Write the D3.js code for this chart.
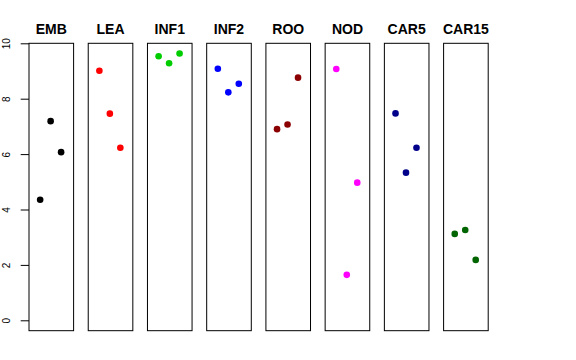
<!DOCTYPE html>
<html><head><meta charset="utf-8">
<script src="https://cdn.jsdelivr.net/npm/d3@7"></script>
<style>body{margin:0;background:#fff}svg{display:block}</style>
</head><body>
<script>
const categories = ["EMB","LEA","INF1","INF2","ROO","NOD","CAR5","CAR15"];
const colors = ["#000000","#FF0000","#00CD00","#0000FF","#8B0000","#FF00FF","#00008B","#006400"];
// three replicate values per category, in left-to-right order
const values = [
  [4.35, 7.19, 6.07],
  [9.01, 7.46, 6.23],
  [9.53, 9.28, 9.63],
  [9.08, 8.23, 8.54],
  [6.90, 7.07, 8.76],
  [9.07, 1.64, 4.97],
  [7.47, 5.33, 6.23],
  [3.12, 3.26, 2.18]
];
const yTicks = [0, 2, 4, 6, 8, 10];

const W = 576, H = 360;
const svg = d3.select("body").append("svg").attr("width", W).attr("height", H);

const y = d3.scaleLinear().domain([0, 10]).range([320.3, 43.3]);
const boxBottom = y(-0.375);
const panelX = d3.scaleBand().domain(categories).range([29, 488.2]).paddingInner(0.247).paddingOuter(0);

categories.forEach((c, i) => {
  const x0 = panelX(c), bw = panelX.bandwidth();
  const g = svg.append("g");
  g.append("rect").attr("x", x0).attr("y", y(10)).attr("width", bw).attr("height", boxBottom - y(10))
    .attr("fill", "none").attr("stroke", "#000").attr("stroke-width", 1);
  g.append("text").attr("x", x0 + bw / 2).attr("y", 34).attr("text-anchor", "middle")
    .attr("font-family", "Liberation Sans, Arial, sans-serif").attr("font-weight", "bold")
    .attr("font-size", 14).text(c);
  g.selectAll("circle").data(values[i]).join("circle")
    .attr("cx", (d, j) => x0 + bw * (0.25 + 0.235 * j))
    .attr("cy", d => y(d)).attr("r", 3.3).attr("fill", colors[i]);
});

const axis = d3.axisLeft(y).tickValues(yTicks).tickSize(8.3).tickFormat(d3.format("d"));
const ag = svg.append("g").attr("transform", "translate(29,0)").call(axis);
ag.select(".domain").remove();
ag.selectAll(".tick line").attr("stroke", "#000");
ag.selectAll(".tick text").attr("font-family", "Liberation Sans, Arial, sans-serif").attr("font-size", 10)
  .attr("fill", "#000").attr("text-anchor", "middle").attr("dy", 0)
  .attr("transform", "translate(-22.5,0) rotate(-90)").attr("x", 0).attr("y", 3.5);
</script>
</body></html>
